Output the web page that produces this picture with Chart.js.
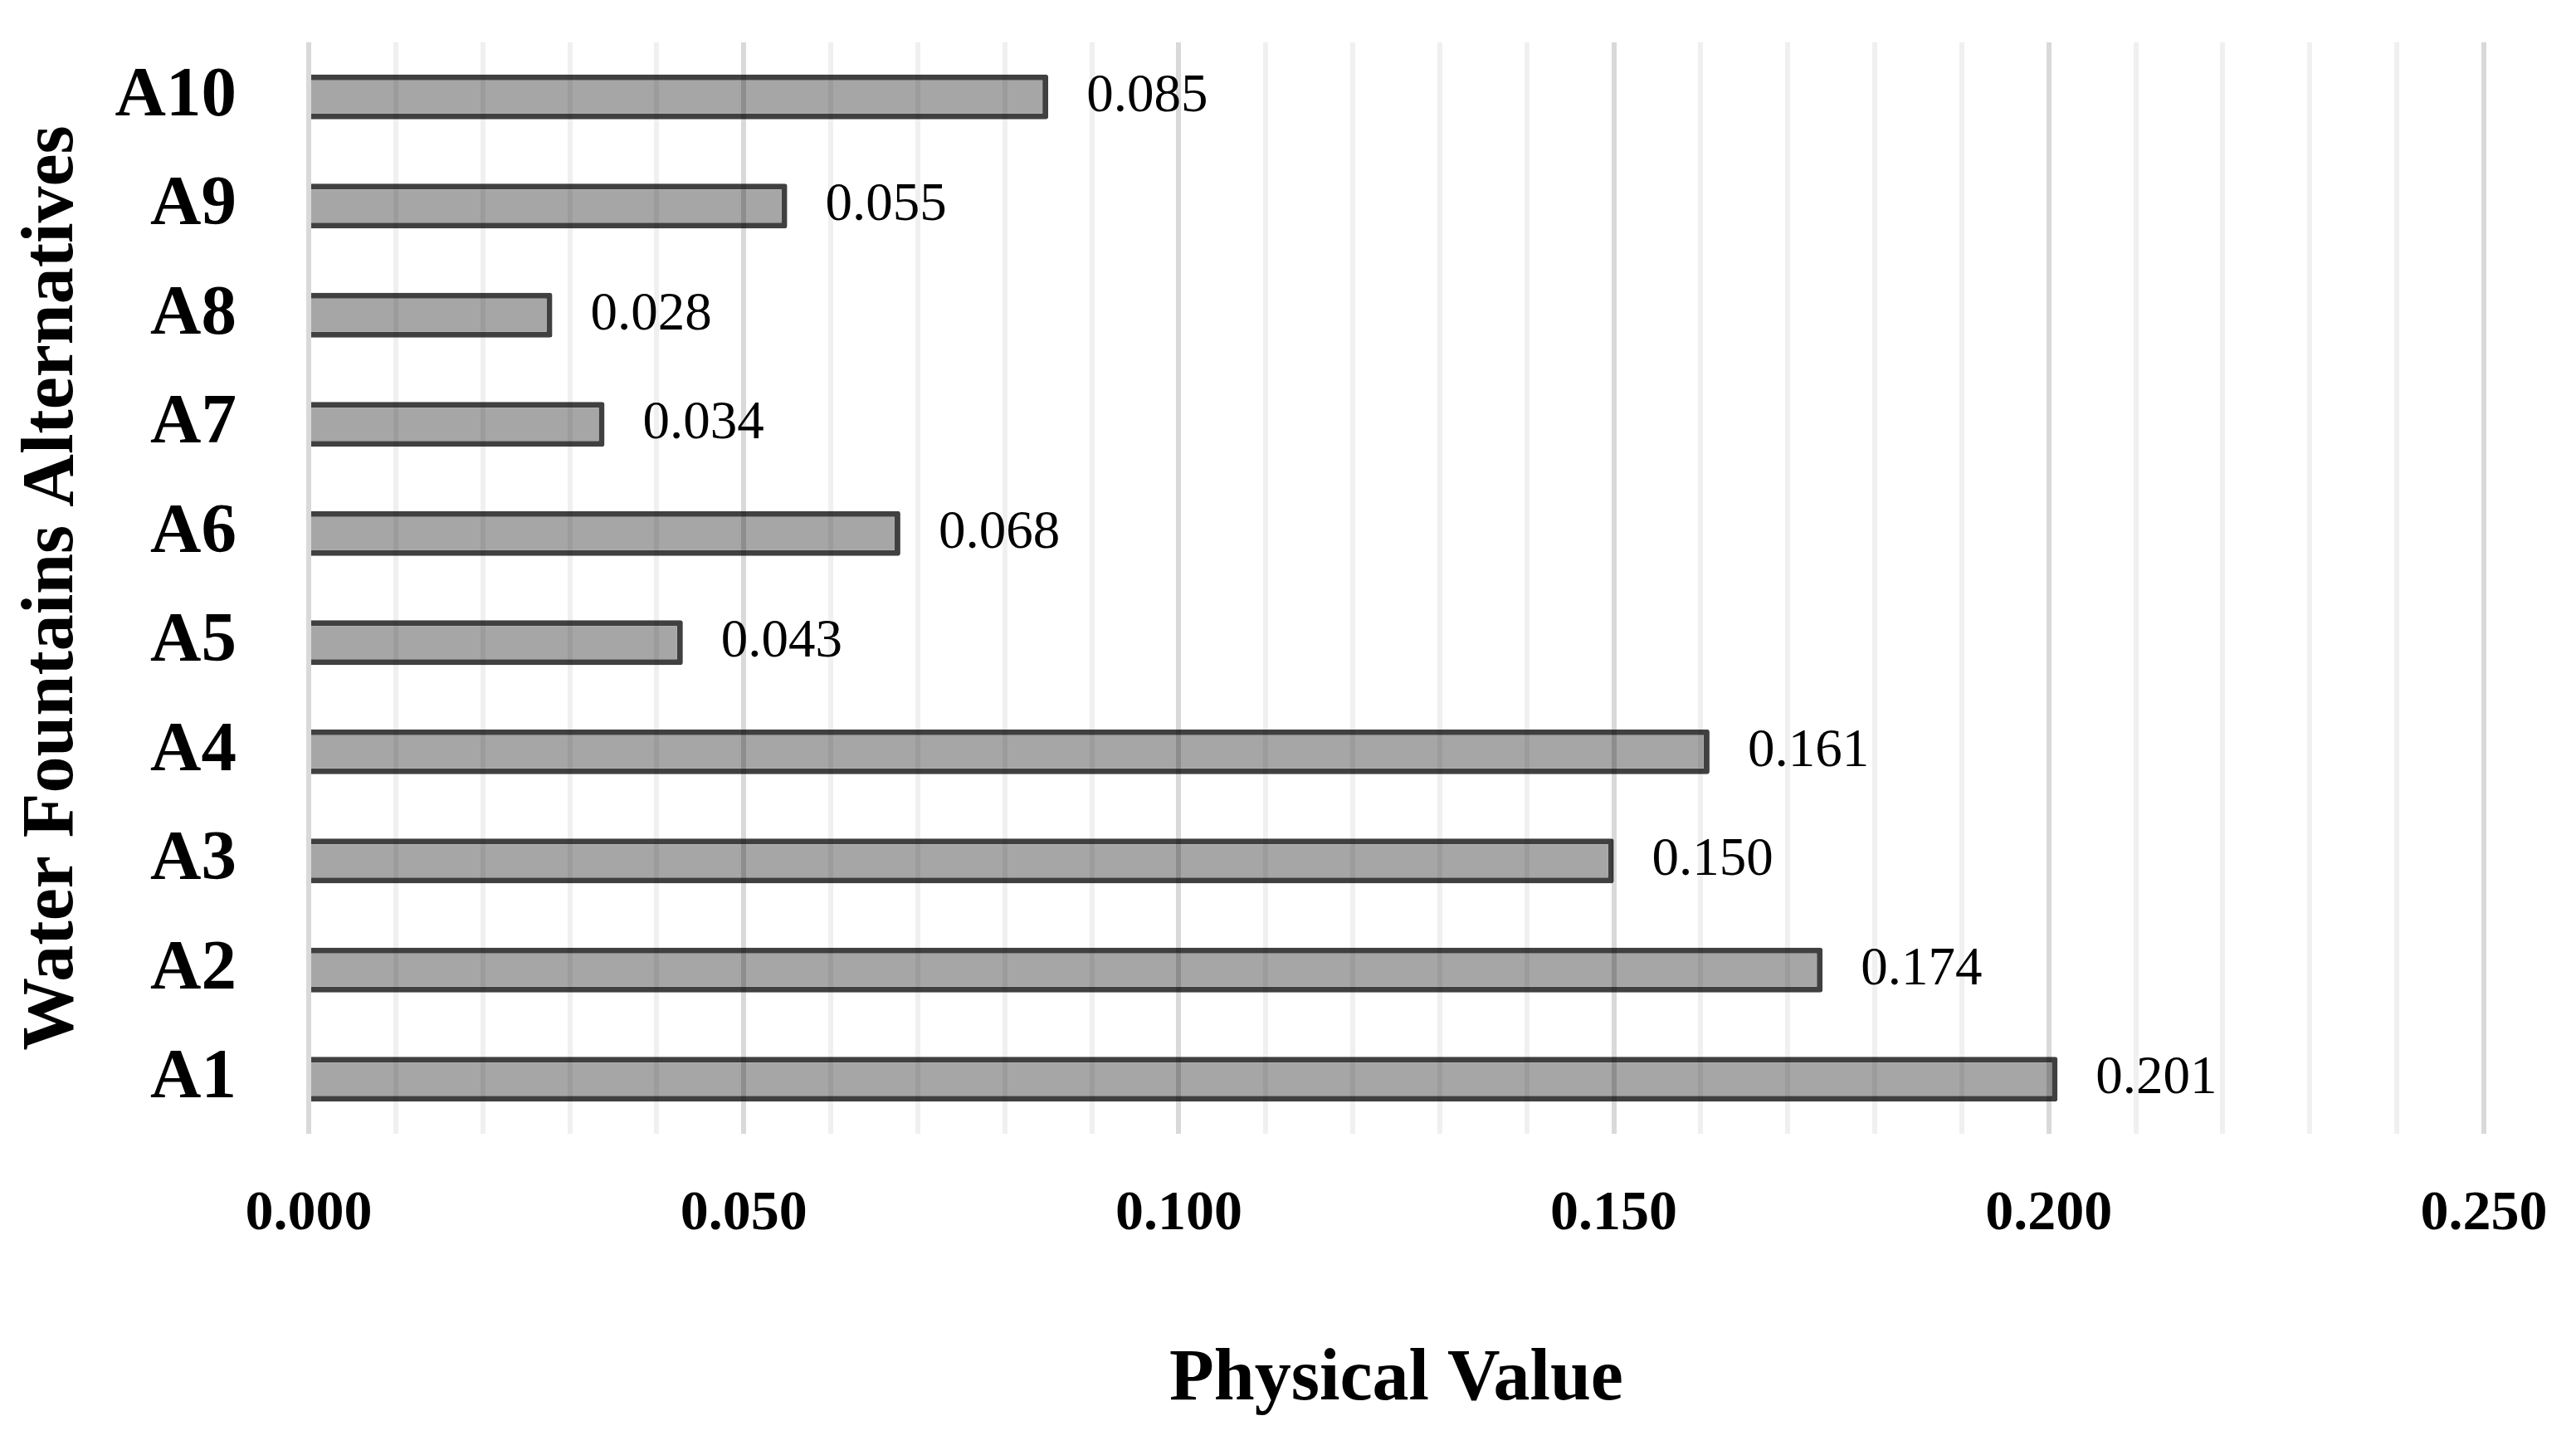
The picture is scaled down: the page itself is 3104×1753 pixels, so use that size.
<!DOCTYPE html>
<html>
<head>
<meta charset="utf-8">
<title>Physical Value</title>
<script src="https://cdn.jsdelivr.net/npm/chart.js@4.4.1/dist/chart.umd.min.js"></script>
<style>
  html, body { margin: 0; padding: 0; background: #ffffff; }
  #wrap { width: 3104px; height: 1753px; }
</style>
</head>
<body>
<div id="wrap">
  <canvas id="myChart" width="3104" height="1753"></canvas>
</div>
<script>
'use strict';

// chart data
let alternatives = ['A1', 'A2', 'A3', 'A4', 'A5', 'A6', 'A7', 'A8', 'A9', 'A10'];
let physicalValues = [0.201, 0.174, 0.150, 0.161, 0.043, 0.068, 0.034, 0.028, 0.055, 0.085];

// x axis: labelled every 0.05, light grid every 0.01
let axisMin = 0;
let axisMax = 0.25;
let minorStep = 0.01;
let labelEvery = 5; // minor steps between labels

let fontFamily = '"Liberation Serif", "Times New Roman", serif';

function isMajor(value) {
  return Math.round(value / minorStep) % labelEvery === 0;
}

// value labels to the right of each bar
let valueLabels = {
  id: 'valueLabels',
  afterDraw(chart) {
    let ctx = chart.ctx;
    let meta = chart.getDatasetMeta(0);
    ctx.save();
    ctx.font = '65px ' + fontFamily;
    ctx.fillStyle = '#000000';
    ctx.textAlign = 'left';
    ctx.textBaseline = 'middle';
    for (let i = 0; i < meta.data.length; i++) {
      let bar = meta.data[i];
      ctx.fillText(physicalValues[i].toFixed(3), bar.x + 46, bar.y);
    }
    ctx.restore();
  }
};

let ctx = document.getElementById('myChart').getContext('2d');

let chartObject = {
  type: 'bar',
  data: {
    labels: alternatives,
    datasets: [{
      data: physicalValues,
      backgroundColor: '#a6a6a6',
      borderColor: '#404040',
      borderWidth: 7,
      borderRadius: 3,
      barPercentage: 0.41,
      categoryPercentage: 1
    }]
  },
  options: {
    indexAxis: 'y',
    responsive: false,
    animation: false,
    devicePixelRatio: 1,
    layout: {
      padding: { top: 51, right: 111, left: 0, bottom: 0 }
    },
    plugins: {
      legend: { display: false },
      tooltip: { enabled: false }
    },
    scales: {
      x: {
        min: axisMin,
        max: axisMax,
        afterFit(scale) {
          // fixed axis band so the plot area lines up with the original
          scale.height = 387;
          scale.paddingLeft = 0;
          scale.paddingRight = 0;
        },
        border: { display: false },
        grid: {
          z: 1,
          drawTicks: false,
          color(context) {
            return isMajor(context.tick.value) ? 'rgba(0,0,0,0.15)' : 'rgba(0,0,0,0.06)';
          },
          lineWidth: 6
        },
        ticks: {
          stepSize: minorStep,
          maxTicksLimit: 30,
          autoSkip: false,
          maxRotation: 0,
          padding: 57,
          color: '#000000',
          font: { family: fontFamily, size: 68, weight: 'bold' },
          callback(value) {
            return isMajor(value) ? value.toFixed(3) : '';
          }
        },
        title: {
          display: true,
          text: 'Physical Value',
          color: '#000000',
          padding: { top: 0, bottom: 37 },
          font: { family: fontFamily, size: 88, weight: 'bold' }
        }
      },
      y: {
        reverse: true,
        afterFit(scale) {
          scale.width = 372;
          scale.paddingTop = 0;
          scale.paddingBottom = 0;
        },
        border: { display: false },
        grid: { display: false, drawTicks: false },
        ticks: {
          padding: 87,
          color: '#000000',
          font: { family: fontFamily, size: 85, weight: 'bold' }
        },
        title: {
          display: true,
          text: 'Water Fountains Alternatives',
          color: '#000000',
          padding: { top: 11, bottom: 0 },
          font: { family: fontFamily, size: 88, weight: 'bold' }
        }
      }
    }
  },
  plugins: [valueLabels]
};

new Chart(ctx, chartObject); //eslint-disable-line
</script>
</body>
</html>
